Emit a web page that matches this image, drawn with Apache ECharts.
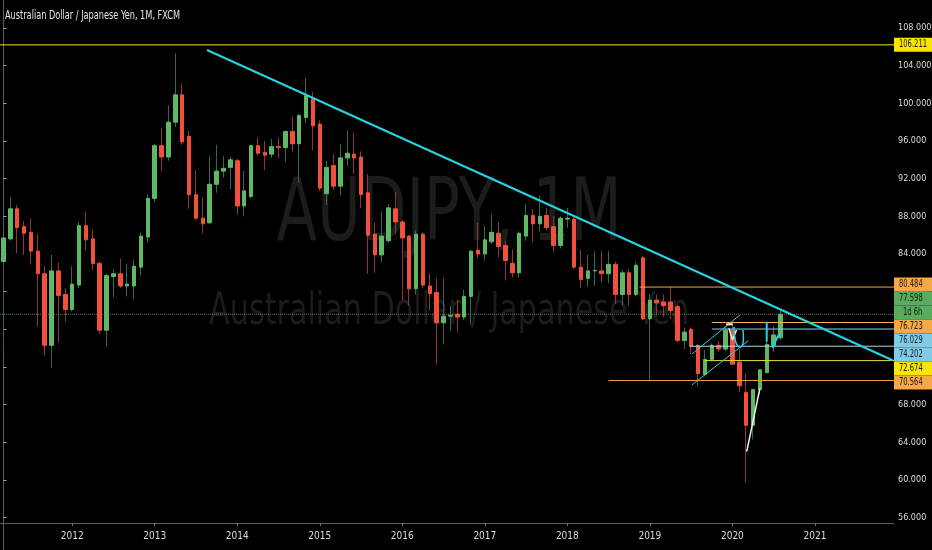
<!DOCTYPE html>
<html><head><meta charset="utf-8">
<script src="https://cdn.jsdelivr.net/npm/echarts@6/dist/echarts.min.js"></script>
<style>html,body{margin:0;padding:0;background:#000;}#c{width:932px;height:550px;}</style>
</head><body><div id="c"></div>
<script>
// ---- data (monthly AUD/JPY candles, 2011-03 .. 2020-08) ----
const startYear = 2011, startMonth = 3, monthCount = 130; // axis runs to 2021-12
const opens = [83.2,85.6,88.8,86.9,86.3,84.3,81.9,74.3,82.2,79.7, 78.1,80.7,87.0,85.6,83.0,75.9,81.6,81.9,80.6,80.6,
  82.6,85.8,89.9,95.5,94.3,98.0,100.9,96.5,90.3,87.8, 87.3,91.4,92.8,93.2,93.9,89.1,90.1,95.5,94.8,94.6,
  95.4,95.3,97.0,95.7,98.5,100.5,97.8,90.4,93.4,91.2, 94.2,94.6,94.3,90.5,86.1,83.9,85.4,88.8,87.4,85.9,
  80.3,86.1,80.6,79.9,76.7,77.4,77.6,77.3,79.5,84.4, 84.0,85.3,86.2,84.9,83.0,82.0,85.9,88.1,87.2,88.1,
  86.9,84.9,87.7,87.7,82.6,81.4,82.2,82.2,81.9,82.9, 79.7,82.0,79.7,83.6,77.1,79.1,78.9,78.9,78.4,74.8,
  76.0,74.3,71.2,72.8,74.3,73.9,75.9,72.5,69.3,65.8, 69.6,71.4,74.3,75.1];
const highs = [86.0,90.0,89.2,87.5,87.8,86.1,82.7,83.9,83.1,80.4, 82.7,87.4,88.5,86.6,83.2,81.9,82.4,83.5,82.9,83.4,
  86.3,90.3,95.7,97.4,99.8,105.3,102.1,97.1,92.9,90.0, 94.4,95.6,94.4,94.3,94.1,92.8,95.6,96.4,96.0,96.2,
  96.4,97.1,98.6,98.9,102.7,101.2,98.2,93.9,94.6,95.7, 97.1,96.9,94.9,92.5,87.3,88.5,89.3,90.6,87.6,86.0,
  86.5,86.3,81.9,81.4,81.4,78.5,79.1,80.2,84.4,87.3, 87.0,88.2,87.4,85.4,84.5,86.4,89.3,88.8,90.2,88.9,
  88.0,88.0,88.9,88.0,84.5,83.9,84.3,84.3,84.3,83.2, 82.3,82.4,83.1,83.8,79.7,79.7,79.7,80.6,78.6,76.2,
  76.2,74.4,73.8,74.5,74.7,76.3,76.6,73.9,71.3,69.6, 71.7,76.6,76.3,78.0];
const lows = [73.9,85.4,84.1,83.9,82.9,76.3,73.2,71.9,74.6,76.8, 77.9,80.4,84.4,82.3,75.5,74.2,79.4,80.4,79.5,79.2,
  81.7,85.2,89.5,92.8,93.9,97.5,95.6,88.8,87.6,86.2, 87.6,90.5,92.1,90.9,88.2,88.0,89.9,94.4,92.9,94.2,
  94.2,93.8,94.9,91.6,97.9,95.0,90.7,89.2,90.8,90.2, 93.4,92.5,88.9,81.9,82.0,83.1,85.2,86.1,79.1,78.5,
  79.7,80.4,78.0,72.3,74.4,75.9,75.7,77.0,76.5,83.6, 83.3,85.0,83.7,81.2,81.5,81.5,85.4,85.3,86.4,86.5,
  84.2,84.6,86.8,82.4,80.4,80.5,80.6,81.0,80.9,78.7, 78.5,78.5,79.5,77.0,70.5,77.4,77.3,77.1,74.6,73.9,
  73.4,69.9,71.0,72.6,73.6,73.7,72.2,69.3,59.7,64.3, 69.1,71.3,73.6,74.9];
const closes = [85.7,88.8,86.8,86.2,84.3,81.9,74.3,82.2,79.6,78.1, 80.8,87.0,85.5,83.0,75.9,81.7,81.9,80.6,80.8,82.7,
  85.9,89.9,95.5,94.3,98.0,100.9,95.9,90.3,87.8,87.2, 91.4,92.8,93.1,94.0,89.1,90.7,95.5,94.7,94.5,95.4,
  95.3,97.0,95.7,98.7,100.8,97.6,91.0,93.2,91.2,94.2, 94.7,94.2,90.3,86.0,83.9,85.9,88.9,87.4,85.7,80.3,
  86.1,80.7,79.8,76.7,77.4,77.5,77.3,79.5,84.3,84.0, 85.5,86.3,84.8,83.3,82.0,86.2,88.1,87.2,88.0,86.8,
  84.9,87.8,87.8,82.6,81.3,82.2,82.25,81.9,82.9,79.7, 82.0,79.7,82.8,77.1,79.1,78.8,78.5,78.0,74.8,75.7,
  74.2,71.3,72.8,74.3,73.9,75.9,72.3,70.0,65.8,69.6, 71.7,74.4,75.4,77.598];

// horizontal levels drawn on the chart: price and starting month index
const levelPrices = [106.211, 80.484, 76.723, 76.029, 74.202, 72.674, 70.564];
const levelStarts = [-0.5, 92.5, 103, 103, 99.8, 102, 88];
const currentPrice = 77.598;
const countdownText = '1d 6h';
// hand-drawn lines: [month index, price]
const trendLine = [[29.6, 105.66], [129.3, 72.7]];
const channelUpper = [[100.1, 73.37], [107.1, 77.52]];
const channelLower = [[100.1, 70.08], [108.3, 74.76]];
const reboundLine = [[108.08, 63.0], [110.0, 69.73]];
const topMarker = [[105.1, 76.53], [106.05, 76.53]];
const arrowV = [[105.5, 76.10], [106.0, 74.86], [106.6, 75.92]];
const cyanHook1 = [[106.23, 76.24], [106.45, 74.76], [107.1, 74.12], [107.6, 74.97], [107.54, 75.92]];
const cyanHook2a = [[110.99, 76.81], [110.99, 74.68]];
const cyanHook2b = [[111.83, 74.01], [112.34, 74.86], [112.92, 75.61]];

// ---- styles ----
const FONT = '"Liberation Sans Narrow","DejaVu Sans Condensed","Open Sans",sans-serif';
const UP = '#5fb865', DOWN = '#f0503c', WICK_UP = '#2f6b5a', WICK_DOWN = '#8a3b35';
const CYAN = '#27d3e2';
const levelColors = ['#f2e22a', '#f5a544', '#f3b06a', '#8fd0ea', '#a8d8ea', '#e8dc3a', '#f0a040'];
const boxStyles = {
  '106.211': ['#f7e600', '#1a1a1a'], '80.484': ['#f6a746', '#1a1a1a'], '76.723': ['#f6a746', '#1a1a1a'],
  '76.029': ['#80cbe6', '#1a1a1a'], '74.202': ['#80cbe6', '#1a1a1a'], '72.674': ['#f7e600', '#1a1a1a'],
  '70.564': ['#f6a746', '#1a1a1a']
};

const categories = [];
for (let k = 0; k < monthCount; k++) {
  const m0 = startMonth - 1 + k;
  categories.push((startYear + Math.floor(m0 / 12)) + '-' + String(m0 % 12 + 1).padStart(2, '0'));
}
const wickData = opens.map((o, i) => [o, closes[i], lows[i], highs[i]]);
const bodyData = opens.map((o, i) => [o, closes[i], Math.min(o, closes[i]), Math.max(o, closes[i])]);
const isJan = (idx, val) => String(val).slice(5) === '01';

const lineSeries = (data, color, width, type, z, smooth) => ({
  type: 'line', xAxisIndex: 1, yAxisIndex: 0, data: data, symbol: 'none', silent: true, z: z || 4,
  smooth: !!smooth, lineStyle: { color: color, width: width, type: type || 'solid' }
});

const series = [
  { type: 'candlestick', xAxisIndex: 0, yAxisIndex: 0, data: wickData, barWidth: 1, z: 2,
    itemStyle: { color: WICK_UP, color0: WICK_DOWN, borderColor: WICK_UP, borderColor0: WICK_DOWN, borderWidth: 1 } },
  { type: 'candlestick', xAxisIndex: 0, yAxisIndex: 0, data: bodyData, barWidth: 4, z: 3,
    itemStyle: { color: UP, color0: DOWN, borderColor: UP, borderColor0: DOWN, borderWidth: 1 } },
  lineSeries([[-0.5, currentPrice], [monthCount - 0.5, currentPrice]], '#63775f', 1, 'dotted', 1)
];
levelPrices.forEach((p, i) => series.push(lineSeries([[levelStarts[i], p], [monthCount - 0.5, p]], levelColors[i], 1)));
series.push(lineSeries(trendLine, CYAN, 2.2, 'solid', 6));
series.push(lineSeries(channelUpper, '#3cc8dc', 1, 'solid', 6));
series.push(lineSeries(channelLower, '#3cc8dc', 1, 'solid', 6));
series.push(lineSeries(reboundLine, '#f2f2f2', 1.5, 'solid', 6));
series.push(lineSeries(topMarker, '#f2f2f2', 2, 'solid', 7));
series.push(lineSeries(arrowV, '#f2f2f2', 1.5, 'solid', 7));
series.push(lineSeries(cyanHook1, CYAN, 1.5, 'solid', 7, true));
series.push(lineSeries(cyanHook2a, CYAN, 2, 'solid', 7));
series.push(lineSeries(cyanHook2b, CYAN, 2, 'solid', 7, true));

const chart = echarts.init(document.getElementById('c'));
chart.setOption({
  backgroundColor: '#000', animation: false,
  grid: { left: 0, right: 38, top: -9.66, bottom: -5.26, containLabel: false, outerBoundsMode: 'none' },
  xAxis: [
    { type: 'category', data: categories, boundaryGap: true, offset: -32.26,
      axisLine: { show: true, lineStyle: { color: '#5c5c5c' } },
      axisTick: { show: true, interval: isJan, alignWithLabel: true, length: 3, lineStyle: { color: '#777' } },
      axisLabel: { interval: isJan, formatter: v => v.slice(0, 4), color: '#dcdcdc', fontSize: 10, fontFamily: FONT, margin: 8 },
      splitLine: { show: false } },
    { type: 'value', min: -0.5, max: monthCount - 0.5, show: false }
  ],
  yAxis: [
    { type: 'value', position: 'right', min: 52, max: 112, interval: 4,
      axisLine: { show: true, lineStyle: { color: '#5c5c5c' } },
      axisTick: { show: true, length: 3, lineStyle: { color: '#aaa' } },
      axisLabel: { formatter: v => v.toFixed(3), color: '#dcdcdc', fontSize: 9, fontFamily: FONT, margin: 4 },
      splitLine: { show: false } }
  ],
  series: series
});

// ---- texts and price tags ----
const ctx = document.createElement('canvas').getContext('2d');
const textW = (t, size) => { ctx.font = size + 'px ' + FONT; return ctx.measureText(t).width; };
const yPix = v => chart.convertToPixel({ yAxisIndex: 0 }, v);
const axisX = chart.convertToPixel({ xAxisIndex: 1 }, monthCount - 0.5);
const midX = chart.convertToPixel({ xAxisIndex: 1 }, 64.8);

const graphics = [];
const addText = (t, x, y, size, fill, width, align, z) => graphics.push({
  type: 'text', x: x, y: y, scaleX: width / textW(t, size), z: z, silent: true,
  style: { text: t, fontSize: size, fontFamily: FONT, fill: fill, align: align, textAlign: align,
           verticalAlign: 'middle', textVerticalAlign: 'middle' }
});
addText('AUDJPY, 1M', midX, 217, 88, '#1c1c1c', 345, 'center', -1);
addText('Australian Dollar / Japanese Yen', midX, 313, 44, '#1c1c1c', 480, 'center', -1);
addText('Australian Dollar / Japanese Yen, 1M, FXCM', 5, 16, 12, '#e6e6e6', 175, 'left', 10);

// price tags: stacked so they do not overlap (clusters centred on their mean)
const BOX_H = 14;
const tagScale = 28 / textW('106.211', 10);
const tags = [
  { items: [{ text: '106.211', bg: boxStyles['106.211'] }], h: BOX_H, c: yPix(106.211) },
  { items: [{ text: '80.484', bg: boxStyles['80.484'] }], h: BOX_H, c: yPix(80.484) },
  { items: [{ text: currentPrice.toFixed(3), bg: ['#5aaa5f', '#0c200c'] }, { text: countdownText, bg: ['#5aaa5f', '#0c200c'], pad: 9 }],
    h: 2 * BOX_H, c: yPix(currentPrice) + BOX_H / 2 },
  { items: [{ text: '76.723', bg: boxStyles['76.723'] }], h: BOX_H, c: yPix(76.723) },
  { items: [{ text: '76.029', bg: boxStyles['76.029'] }], h: BOX_H, c: yPix(76.029) },
  { items: [{ text: '74.202', bg: boxStyles['74.202'] }], h: BOX_H, c: yPix(74.202) },
  { items: [{ text: '72.674', bg: boxStyles['72.674'] }], h: BOX_H, c: yPix(72.674) },
  { items: [{ text: '70.564', bg: boxStyles['70.564'] }], h: BOX_H, c: yPix(70.564) }
];
let clusters = [];
tags.forEach(t => {
  clusters.push({ list: [t], h: t.h, w: t.h * t.c, top: t.c - t.h / 2 });
  while (clusters.length > 1) {
    const a = clusters[clusters.length - 2], b = clusters[clusters.length - 1];
    if (a.top + a.h <= b.top) break;
    const m = { list: a.list.concat(b.list), h: a.h + b.h, w: a.w + b.w };
    m.top = m.w / m.h - m.h / 2;
    clusters.splice(clusters.length - 2, 2, m);
  }
});
clusters.forEach(cl => {
  let y = cl.top;
  cl.list.forEach(t => t.items.forEach(it => {
    graphics.push({ type: 'rect', z: 50, silent: true, shape: { x: axisX, y: y, width: 932 - axisX, height: BOX_H },
      style: { fill: it.bg[0] } });
    graphics.push({ type: 'text', z: 51, silent: true, x: axisX + (it.pad || 5), y: y + BOX_H / 2, scaleX: tagScale,
      style: { text: it.text, fontSize: 10, fontFamily: FONT, fill: it.bg[1], align: 'left', textAlign: 'left',
               verticalAlign: 'middle', textVerticalAlign: 'middle' } });
    y += BOX_H;
  }));
});
chart.setOption({ graphic: { elements: graphics } });
</script></body></html>
